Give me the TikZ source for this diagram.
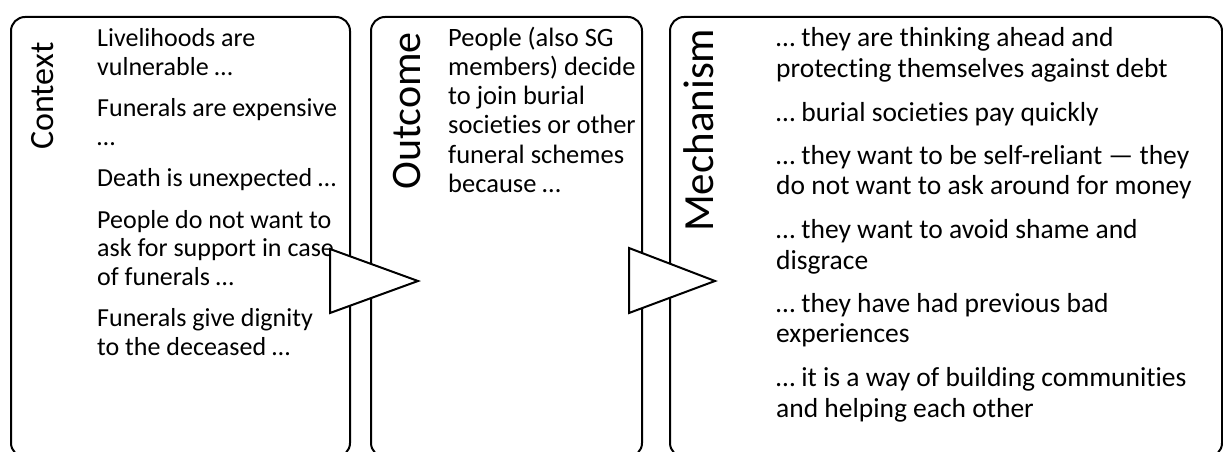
\documentclass[tikz,border=0pt]{standalone}
\usepackage{fontspec}
\setmainfont{Carlito}[Ligatures=NoCommon]
\begin{document}
\begin{tikzpicture}[x=1pt,y=1pt,
  panel/.style={draw=black,line width=2pt,rounded corners=14pt,fill=white},
  flow/.style={draw=black,line width=2pt,fill=white,line join=miter},
  heading/.style={rotate=90,anchor=base west,inner sep=0pt},
  body/.style={anchor=base west,inner sep=0pt,align=left}
]
\useasboundingbox (0,0) rectangle (1223,-452);

% three panels, running off the lower edge
\draw[panel] (11,-17) rectangle (350,-457);
\draw[panel] (371,-17) rectangle (642,-457);
\draw[panel] (670,-17) rectangle (1222,-457);

% rotated headings
\node[heading,font=\fontsize{34}{40}\selectfont] (ctxh) at (53,-150) {Context};
\node[heading,font=\fontsize{42}{48}\selectfont] (outh) at (420,-190) {Outcome};
\node[heading,font=\fontsize{43}{48}\selectfont] (mech) at (713,-232) {Mechanism};

% panel texts: #1 width, #2 size, #3 line pitch, #4 paragraph gap, #5 text
\newcommand{\paneltext}[5]{\parbox[t]{#1}{\fontsize{#2}{#3}\selectfont\setlength{\parskip}{#4}\raggedright #5}}

\node[body] (ctxt) at (97,-46.7) {\paneltext{300pt}{26}{28.5}{13pt}{%
Livelihoods are\\vulnerable …\par
Funerals are expensive\\…\par
Death is unexpected …\par
People do not want to\\ask for support in case\\of funerals …\par
Funerals give dignity\\to the deceased …}};

\node[body] (outt) at (448,-46.7) {\paneltext{300pt}{26.5}{29.1}{0pt}{%
People (also SG\\members) decide\\to join burial\\societies or other\\funeral schemes\\because …}};

\node[body] (mect) at (776,-47) {\paneltext{460pt}{27.5}{30.6}{12.8pt}{%
… they are thinking ahead and\\protecting themselves against debt\par
… burial societies pay quickly\par
… they want to be self-reliant — they\\do not want to ask around for money\par
… they want to avoid shame and\\disgrace\par
… they have had previous bad\\experiences\par
… it is a way of building communities\\and helping each other}};

% flow arrows between the panels
\draw[flow] (330,-249) -- (418,-281) -- (330,-313) -- cycle;
\draw[flow] (629,-248) -- (715,-281) -- (629,-313) -- cycle;
\end{tikzpicture}
\end{document}
